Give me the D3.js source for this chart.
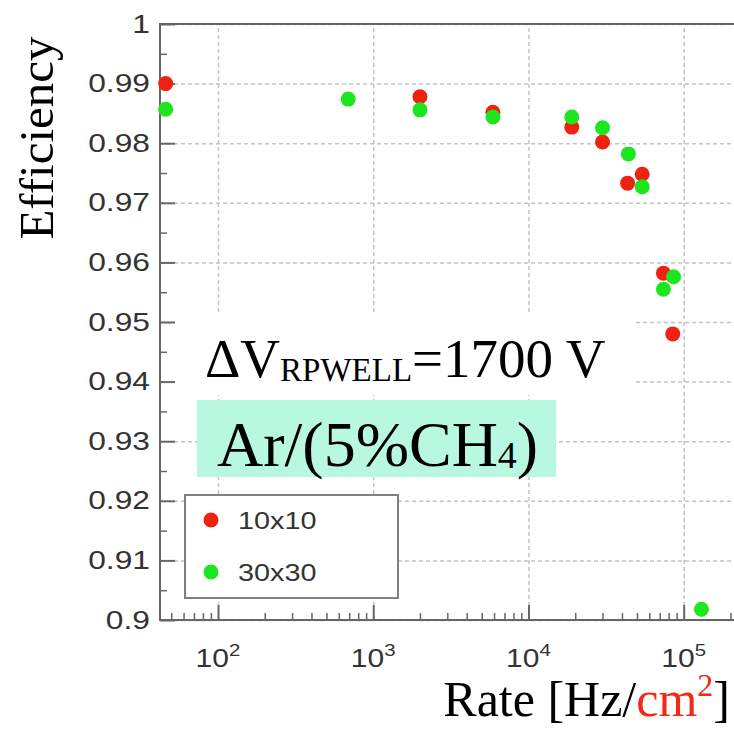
<!DOCTYPE html>
<html>
<head>
<meta charset="utf-8">
<script src="https://cdn.jsdelivr.net/npm/d3@7"></script>
<style>
  body { margin: 0; background: #fff; }
  .tick text { fill: #333; }
</style>
</head>
<body>
<div id="chart"></div>
<script>
// Efficiency vs rate, two pad sizes

// Data
const rates10 = [46, 2000, 5900, 19000, 30000, 43500, 54000, 74000, 85000];
const eff10   = [0.9900, 0.9878, 0.9852, 0.9827, 0.9802, 0.9733, 0.9748, 0.9582, 0.9480];

const rates30 = [46, 690, 2000, 5900, 19000, 30000, 44000, 54000, 86000, 74000, 130000];
const eff30   = [0.9857, 0.9874, 0.9856, 0.9844, 0.9844, 0.9826, 0.9782, 0.9727, 0.9576, 0.9555, 0.9018];

const seriesNames = ["10x10", "30x30"];
const yTicks = [0.9, 0.91, 0.92, 0.93, 0.94, 0.95, 0.96, 0.97, 0.98, 0.99, 1];
const yTickLabels = ["0.9", "0.91", "0.92", "0.93", "0.94", "0.95", "0.96", "0.97", "0.98", "0.99", "1"];
const xTicks = [1e2, 1e3, 1e4, 1e5];
const xTickExps = ["2", "3", "4", "5"];

const width = 734, height = 730;
const plot = {left: 160, top: 24, right: 760, bottom: 620};
const red = "#ee2210", green = "#1ee61e";

const svg = d3.select("#chart").append("svg")
    .attr("width", width)
    .attr("height", height);

// scales
const xScale = d3.scaleLog()
    .domain([42.3, 3.1e5])
    .range([plot.left, plot.right]);

const yScale = d3.scaleLinear()
    .domain([0.9, 1])
    .range([plot.bottom, plot.top]);

// stretch text horizontally, the original fonts are wider
function stretch(sel, k) {
    sel.each(function() {
        const w = this.getComputedTextLength();
        d3.select(this).attr("textLength", w * k).attr("lengthAdjust", "spacingAndGlyphs");
    });
}

// grid lines
svg.append("g")
    .attr("transform", "translate(0," + plot.bottom + ")")
    .call(d3.axisBottom(xScale).tickValues(xTicks).tickSize(-(plot.bottom - plot.top)).tickFormat(""))
    .call(g => g.select(".domain").remove())
    .selectAll("line").attr("stroke", "#c4c4c4").attr("stroke-width", 1.5).attr("stroke-dasharray", "4,3");

svg.append("g")
    .attr("transform", "translate(" + plot.left + ",0)")
    .call(d3.axisLeft(yScale).tickValues(yTicks).tickSize(-(plot.right - plot.left)).tickFormat(""))
    .call(g => g.select(".domain").remove())
    .selectAll("line").attr("stroke", "#c4c4c4").attr("stroke-width", 1.5).attr("stroke-dasharray", "4,3");

// annotation boxes
svg.append("rect")
    .attr("x", 175).attr("y", 312)
    .attr("width", 458).attr("height", 83)
    .attr("fill", "#fff");

svg.append("text")
    .attr("x", 205).attr("y", 377)
    .style("font-family", "'Liberation Serif', 'Times New Roman', serif")
    .style("font-size", "55px")
    .call(t => {
        t.append("tspan").text("ΔV");
        t.append("tspan").attr("dy", 4).style("font-size", "33px").text("RPWELL");
        t.append("tspan").attr("dy", -4).text("=1700 V");
    });

svg.append("rect")
    .attr("x", 197).attr("y", 400)
    .attr("width", 359).attr("height", 77)
    .attr("fill", "#b8f8e0");

svg.append("text")
    .attr("x", 217).attr("y", 466)
    .style("font-family", "'Liberation Serif', 'Times New Roman', serif")
    .style("font-size", "64px")
    .call(t => {
        t.append("tspan").text("Ar/(5%CH");
        t.append("tspan").attr("dy", 2).style("font-size", "38px").text("4");
        t.append("tspan").attr("dy", -2).text(")");
    });

// legend
const legend = svg.append("g");
legend.append("rect")
    .attr("x", 185).attr("y", 495)
    .attr("width", 213).attr("height", 103)
    .attr("fill", "#fff")
    .attr("stroke", "#808080")
    .attr("stroke-width", 2);

legend.selectAll(".ldot")
    .data(seriesNames)
    .enter().append("circle")
    .attr("class", "ldot")
    .attr("cx", 211)
    .attr("cy", (d, i) => 520 + i * 52)
    .attr("r", 7.5)
    .attr("fill", (d, i) => i === 0 ? red : green);

legend.selectAll(".ltext")
    .data(seriesNames)
    .enter().append("text")
    .attr("class", "ltext")
    .attr("x", 238)
    .attr("y", (d, i) => 520 + i * 52)
    .attr("dy", "0.36em")
    .style("font-family", "'Liberation Sans', Arial, sans-serif")
    .style("font-size", "24px")
    .attr("fill", "#333")
    .text(d => d)
    .call(stretch, 1.2);

// frame
svg.append("rect")
    .attr("x", plot.left).attr("y", plot.top)
    .attr("width", plot.right - plot.left).attr("height", plot.bottom - plot.top)
    .attr("fill", "none")
    .attr("stroke", "#666")
    .attr("stroke-width", 2);

// y axis: major + minor ticks
const yAxis = svg.append("g")
    .attr("transform", "translate(" + plot.left + ",0)")
    .call(d3.axisLeft(yScale).tickValues(yTicks).tickSize(-15).tickSizeOuter(0).tickPadding(10)
        .tickFormat((d, i) => yTickLabels[i]));
yAxis.select(".domain").remove();
yAxis.selectAll("line").attr("stroke", "#666").attr("stroke-width", 2);
yAxis.selectAll("text")
    .style("font-family", "'Liberation Sans', Arial, sans-serif")
    .style("font-size", "25px")
    .call(stretch, 1.27);

const yMinor = yTicks.slice(0, -1).map(d => d + 0.005);
svg.append("g")
    .attr("transform", "translate(" + plot.left + ",0)")
    .call(d3.axisLeft(yScale).tickValues(yMinor).tickSize(-7).tickFormat(""))
    .call(g => g.select(".domain").remove())
    .selectAll("line").attr("stroke", "#666").attr("stroke-width", 1.5);

// x axis: major + minor ticks
const xAxis = svg.append("g")
    .attr("transform", "translate(0," + plot.bottom + ")")
    .call(d3.axisBottom(xScale).tickValues(xTicks).tickSize(-15).tickSizeOuter(0).tickFormat(""));
xAxis.select(".domain").remove();
xAxis.selectAll("line").attr("stroke", "#666").attr("stroke-width", 2);

const xMinor = [];
[10, 100, 1000, 10000, 100000].forEach(dec => {
    for (let m = 2; m <= 9; m++) {
        const v = m * dec;
        if (v > xScale.domain()[0] && v < xScale.domain()[1]) xMinor.push(v);
    }
});
svg.append("g")
    .attr("transform", "translate(0," + plot.bottom + ")")
    .call(d3.axisBottom(xScale).tickValues(xMinor).tickSize(-7).tickFormat(""))
    .call(g => g.select(".domain").remove())
    .selectAll("line").attr("stroke", "#666").attr("stroke-width", 1.5);

// x tick labels as 10^n
svg.selectAll(".xlab")
    .data(xTicks)
    .enter().append("text")
    .attr("class", "xlab")
    .attr("x", d => xScale(d))
    .attr("y", 667)
    .attr("text-anchor", "middle")
    .attr("fill", "#333")
    .style("font-family", "'Liberation Sans', Arial, sans-serif")
    .style("font-size", "25px")
    .each(function(d, i) {
        const t = d3.select(this);
        t.append("tspan").text("10");
        t.append("tspan").attr("dy", -11).style("font-size", "17px").text(xTickExps[i]);
    })
    .call(stretch, 1.2);

// data points
svg.selectAll(".dot10")
    .data(rates10.map((r, i) => [r, eff10[i]]))
    .enter().append("circle")
    .attr("class", "dot10")
    .attr("cx", d => xScale(d[0]))
    .attr("cy", d => yScale(d[1]))
    .attr("r", 7.5)
    .attr("fill", red);

svg.selectAll(".dot30")
    .data(rates30.map((r, i) => [r, eff30[i]]))
    .enter().append("circle")
    .attr("class", "dot30")
    .attr("cx", d => xScale(d[0]))
    .attr("cy", d => yScale(d[1]))
    .attr("r", 7.5)
    .attr("fill", green);

// axis titles
svg.append("text")
    .attr("transform", "translate(53,138) rotate(-90)")
    .attr("text-anchor", "middle")
    .style("font-family", "'Liberation Serif', 'Times New Roman', serif")
    .style("font-size", "49px")
    .text("Efficiency");

svg.append("text")
    .attr("x", 730).attr("y", 716)
    .attr("text-anchor", "end")
    .style("font-family", "'Liberation Serif', 'Times New Roman', serif")
    .style("font-size", "50px")
    .call(t => {
        t.append("tspan").text("Rate [Hz/");
        t.append("tspan").attr("fill", "#f02a14").text("cm");
        t.append("tspan").attr("fill", "#f02a14").attr("dy", -20).style("font-size", "32px").text("2");
        t.append("tspan").attr("dy", 20).text("]");
    });
</script>
</body>
</html>
